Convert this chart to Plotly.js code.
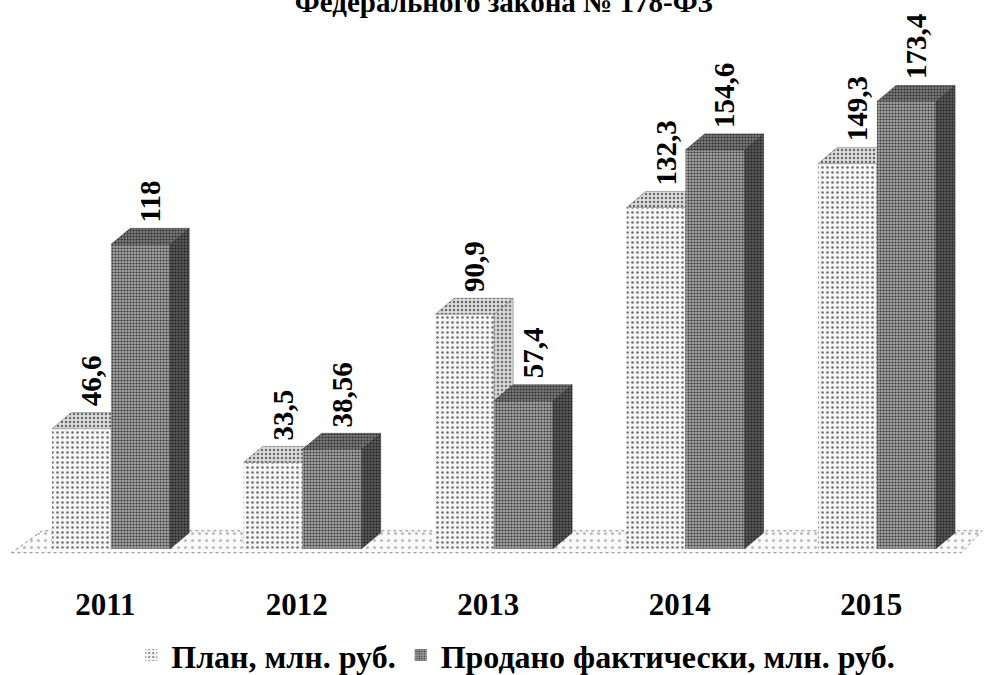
<!DOCTYPE html>
<html>
<head>
<meta charset="utf-8">
<script src="https://cdn.plot.ly/plotly-3.0.1.min.js"></script>
<style>html,body{margin:0;padding:0;background:#fff;}#chart{width:988px;height:675px;}</style>
</head>
<body>
<div id="chart"></div>
<script>
// ---- data ----
const years = ['2011', '2012', '2013', '2014', '2015'];
const planValues = [46.6, 33.5, 90.9, 132.3, 149.3];
const factValues = [118, 38.56, 57.4, 154.6, 173.4];
const planName = 'План, млн. руб.';
const factName = 'Продано фактически, млн. руб.';
const chartTitle = 'Федерального закона № 178-ФЗ';

// ---- geometry (style only) ----
const W = 0.308;   // bar width (x units)
const DX = 0.10;   // depth offset in x units
const DY = 6.2;    // depth offset in y units
const XR = [-0.58, 4.58];
const YR = [-2, 197.2];
const FONT = 'Liberation Serif, Times New Roman, serif';
const idx = years.map((_, i) => i);
const fmt = v => String(v).replace('.', ',');

function faces(values, off) {
  const top = {x: [], y: []}, side = {x: [], y: []};
  values.forEach((v, i) => {
    const x0 = i + off, x1 = x0 + W;
    top.x.push(x0, x1, x1 + DX, x0 + DX, x0, null);
    top.y.push(v, v, v + DY, v + DY, v, null);
    side.x.push(x1, x1 + DX, x1 + DX, x1, x1, null);
    side.y.push(0, DY, v + DY, v, 0, null);
  });
  return {top, side};
}

const pf = faces(planValues, -W);
const ff = faces(factValues, 0);

function poly(p, xa, ya, bg, fg, size, sol) {
  return {
    type: 'scatter', mode: 'lines', x: p.x, y: p.y, xaxis: xa, yaxis: ya,
    fill: 'toself', fillcolor: bg,
    fillpattern: {shape: '.', bgcolor: bg, fgcolor: fg, size: size, solidity: sol},
    line: {width: 0.5, color: fg}, hoverinfo: 'skip', showlegend: false
  };
}

// floor (decoration, derived from axis range)
const floor = {
  type: 'scatter', mode: 'lines',
  x: [XR[0] + 0.06, XR[1] - 0.14, XR[1] - 0.03, XR[0] + 0.22, XR[0] + 0.06],
  y: [-1.5, -1.5, 7, 7, -1.5],
  fill: 'toself', fillcolor: '#f8f8f8',
  fillpattern: {shape: '.', bgcolor: '#fafafa', fgcolor: '#bdbdbd', size: 7, solidity: 0.15},
  line: {width: 1, color: '#8a8a8a', dash: 'dot'}, hoverinfo: 'skip', showlegend: false,
  xaxis: 'x', yaxis: 'y'
};

const planBar = {
  type: 'bar', name: planName, x: idx, y: planValues, width: W, offset: -W,
  xaxis: 'x2', yaxis: 'y2',
  marker: {color: '#f2f2f2', line: {width: 0},
    pattern: {shape: '.', bgcolor: '#f5f5f5', fgcolor: '#6e6e6e', size: 5, solidity: 0.2}},
  hoverinfo: 'skip'
};
const factBar = {
  type: 'bar', name: factName, x: idx, y: factValues, width: W, offset: 0,
  xaxis: 'x3', yaxis: 'y3',
  marker: {color: '#9a9a9a', line: {width: 0},
    pattern: {shape: '.', bgcolor: '#a4a4a4', fgcolor: '#383838', size: 3, solidity: 0.38}},
  hoverinfo: 'skip'
};

const traces = [
  floor,
  planBar,
  poly(pf.side, 'x2', 'y2', '#d6d6d6', '#777777', 4, 0.3),
  poly(pf.top, 'x2', 'y2', '#dcdcdc', '#6a6a6a', 4, 0.3),
  factBar,
  poly(ff.side, 'x3', 'y3', '#5a5a5a', '#222222', 3, 0.4),
  poly(ff.top, 'x3', 'y3', '#7a7a7a', '#2e2e2e', 3, 0.4)
];

const labelFont = {family: FONT, size: 29, color: '#000', weight: 'bold'};
const annotations = [];
planValues.forEach((v, i) => annotations.push({
  x: i - W / 2 + DX / 2, y: v + DY, xref: 'x', yref: 'y', text: fmt(v), textangle: -90,
  showarrow: false, xanchor: 'center', yanchor: 'bottom', yshift: 4, font: labelFont
}));
factValues.forEach((v, i) => annotations.push({
  x: i + W / 2 + DX / 2, y: v + DY, xref: 'x', yref: 'y', text: fmt(v), textangle: -90,
  showarrow: false, xanchor: 'center', yanchor: 'bottom', yshift: 4, font: labelFont
}));

const hidden = {range: XR, visible: false, fixedrange: true};
const layout = {
  width: 988, height: 675,
  margin: {l: 0, r: 0, t: 40, b: 121, autoexpand: false},
  paper_bgcolor: '#ffffff', plot_bgcolor: 'rgba(0,0,0,0)',
  barmode: 'overlay',
  font: {family: FONT, color: '#000'},
  title: {text: chartTitle, font: {family: FONT, size: 29, weight: 'bold', color: '#000'},
    x: 0.51, xanchor: 'center', xref: 'paper', y: 0.998, yref: 'container', yanchor: 'middle'},
  xaxis: {range: XR, tickvals: idx.map(i => i - 0.03), ticktext: years, showgrid: false,
    zeroline: false, showline: false, ticks: '', ticklabelstandoff: 29,
    tickfont: {family: FONT, size: 31, weight: 'bold', color: '#000'}, fixedrange: true},
  yaxis: {range: YR, visible: false, fixedrange: true},
  xaxis2: Object.assign({}, hidden, {overlaying: 'x', anchor: 'y2'}),
  yaxis2: {range: YR, visible: false, overlaying: 'y', anchor: 'x2', fixedrange: true},
  xaxis3: Object.assign({}, hidden, {overlaying: 'x', anchor: 'y3'}),
  yaxis3: {range: YR, visible: false, overlaying: 'y', anchor: 'x3', fixedrange: true},
  showlegend: true,
  legend: {orientation: 'h', x: 0.522, xanchor: 'center', y: -0.197, yanchor: 'middle',
    font: {family: FONT, size: 32, weight: 'bold', color: '#000'}, itemwidth: 30},
  annotations: annotations
};

Plotly.newPlot('chart', traces, layout, {displayModeBar: false, staticPlot: true});
</script>
</body>
</html>
